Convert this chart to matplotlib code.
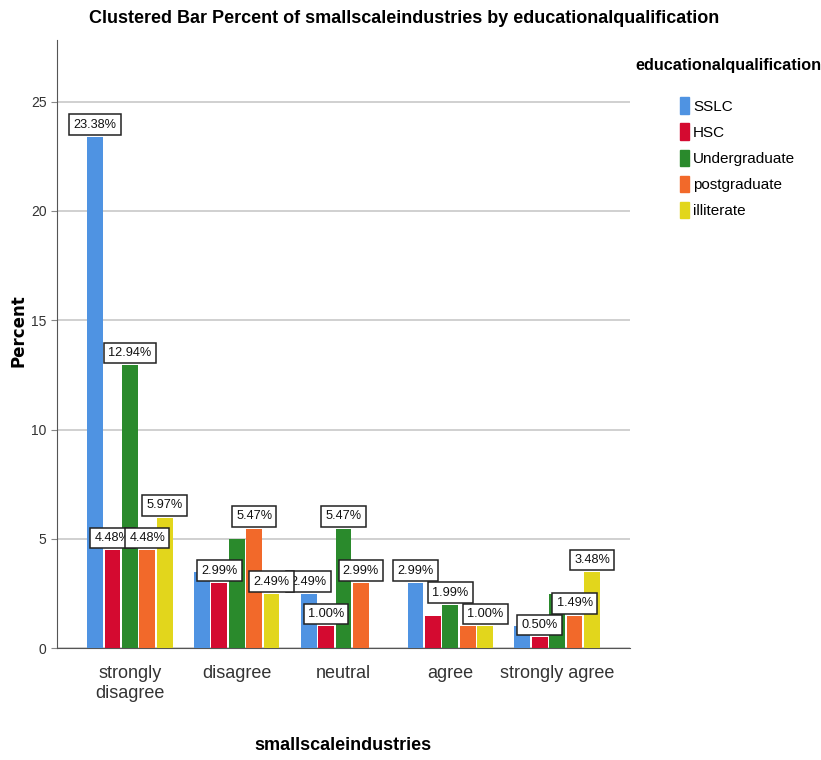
import matplotlib.pyplot as plt
import numpy as np
from matplotlib.patches import Patch

# Percent of respondents per answer, split by educational qualification
answers = ['strongly\ndisagree', 'disagree', 'neutral', 'agree', 'strongly agree']
groups = ['SSLC', 'HSC', 'Undergraduate', 'postgraduate', 'illiterate']
sslc = [23.38, 3.48, 2.49, 2.99, 1.00]
hsc = [4.48, 2.99, 1.00, 1.49, 0.50]
undergrad = [12.94, 4.98, 5.47, 1.99, 2.49]
postgrad = [4.48, 5.47, 2.99, 1.00, 1.49]
illiterate = [5.97, 2.49, 0.0, 1.00, 3.48]

# which bars carry a value label (the rest are hidden where labels would collide)
shown = [
    [True, False, True, True, False],
    [True, True, True, False, True],
    [True, False, True, True, False],
    [True, True, True, False, True],
    [True, True, False, True, True],
]

colors = ['#4f93e2', '#d40a30', '#2a8a2c', '#f2692a', '#e2d61c']

plt.rcParams['font.family'] = ['Liberation Sans', 'DejaVu Sans']

fig = plt.figure(figsize=(8.21, 7.6), dpi=100)
ax = fig.add_axes([0.0694, 0.147, 0.698, 0.80])

series = [sslc, hsc, undergrad, postgrad, illiterate]
x = np.arange(len(answers))
pitch = 0.163
width = 0.148
for i, (vals, name, col) in enumerate(zip(series, groups, colors)):
    pos = x + (i - 2) * pitch
    ax.bar(pos, vals, width, color=col, label=name, zorder=3)
    for xp, v, show in zip(pos, vals, shown[i]):
        if show and v > 0:
            ax.annotate(f'{v:.2f}%', (xp, v), xytext=(0, 4.5), textcoords='offset points',
                        ha='center', va='bottom', fontsize=9.2, color='#111111', zorder=5,
                        bbox=dict(boxstyle='square,pad=0.33', fc='white', ec='#222222', lw=1.1))

ax.set_xlim(-0.682, 4.682)
ax.set_ylim(0, 27.8)
ax.set_yticks([0, 5, 10, 15, 20, 25])
ax.yaxis.grid(True, color='#c8c8c8', linewidth=1.2, zorder=0)
ax.set_xticks(x)
ax.set_xticklabels(answers, fontsize=13, color='#333333', linespacing=1.25)
ax.tick_params(axis='x', length=0, pad=12)
ax.tick_params(axis='y', labelsize=10, colors='#333333', length=4, color='#888888')
for side in ['top', 'right']:
    ax.spines[side].set_visible(False)
ax.spines['left'].set_color('#555555')
ax.spines['bottom'].set_color('#555555')

fig.text(0.022, 0.565, 'Percent', rotation=90, ha='center', va='center',
         fontsize=12, fontweight='bold', family='DejaVu Sans')
fig.text(0.418, 0.019, 'smallscaleindustries', ha='center', va='center',
         fontsize=13, fontweight='bold')
fig.text(0.492, 0.976, 'Clustered Bar Percent of smallscaleindustries by educationalqualification',
         ha='center', va='center', fontsize=13, fontweight='bold')

# legend: bold title on its own, swatches indented underneath
fig.text(0.774, 0.914, 'educationalqualification', ha='left', va='center',
         fontsize=11.7, fontweight='bold')
handles = [Patch(color=c, label=g) for c, g in zip(colors, groups)]
fig.legend(handles=handles, loc='upper left', bbox_to_anchor=(0.819, 0.882), frameon=False,
           fontsize=11, handlelength=0.6, handleheight=1.3, handletextpad=0.25,
           labelspacing=0.62, borderpad=0)

fig.savefig('out.png', dpi=100)
